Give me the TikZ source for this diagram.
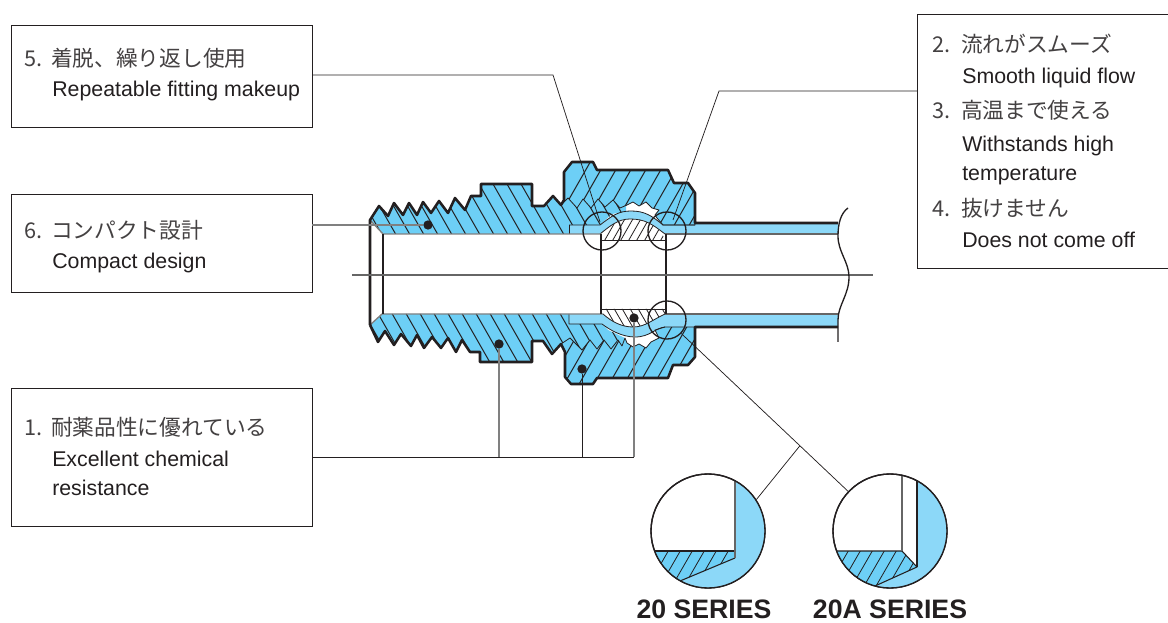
\documentclass[tikz,border=0pt]{standalone}
\usepackage{fontspec}
\setmainfont{Liberation Sans}
\newfontfamily\cjk{Noto Sans CJK JP}
\usetikzlibrary{calc}
\definecolor{bodyblue}{HTML}{6DCFF6}
\definecolor{tubeblue}{HTML}{8CD8F8}
\definecolor{ink}{HTML}{231F20}
\definecolor{centergray}{HTML}{666666}
\definecolor{leadgray}{HTML}{808080}
\def\bodyU{(370,220)--(379,206)--(388,216)--(394,203)--(403,215)--(409,203)--(417,215)--(423,202)--(431,213)--(439,201)--(448,213)--(455,198)--(465,210)--(471,196)--(481,196)--(481,184)--(532,184)--(532,206)--(544,206)--(553,196)--(561,205)--(568,198)--(577,208)--(583,199)--(591,208)--(598,199)--(605,207)--(613,200)--(620,208)--(626,205)--(626,212)--(612,214)--(600,225)--(569,225)--(569,234)--(383,234)--cycle}
\def\nutU{(561,205)--(564,200)--(564,172)--(572,162)--(593,162)--(597,170)--(668,170)--(674,183)--(688,183)--(695,193)--(695,225)--(663,225)--(657,218)--(655,215)--(659,210)--(652,208)--(646,202)--(639,206)--(633,202)--(627,205)--(620,208)--(613,200)--(605,207)--(598,199)--(591,208)--(583,199)--(577,208)--(568,198)--cycle}
\def\bodyL{(370,325)--(378,342)--(385,331)--(394,345)--(401,334)--(411,346)--(417,335)--(424,348)--(432,337)--(441,348)--(448,338)--(456,352)--(462,340)--(470,352)--(480,352)--(480,362)--(532,362)--(532,341)--(543,341)--(552,354)--(561,344)--(570,338)--(582,350)--(590,340)--(597,349)--(604,340)--(611,349)--(618,340)--(622,346)--(625,338)--(608,330)--(602,324)--(569,324)--(569,314)--(382,314)--cycle}
\def\nutL{(561,344)--(565,352)--(565,377)--(571,384)--(593,384)--(597,378)--(668,378)--(673,365)--(688,365)--(695,357)--(695,327)--(665,327)--(655,330)--(659,338)--(651,342)--(646,348)--(639,344)--(633,347)--(627,343)--(625,338)--(622,346)--(618,340)--(611,349)--(604,340)--(597,349)--(590,340)--(582,350)--(570,338)--cycle}
\def\tubeU{(569,225)--(600,225) .. controls (612,216) and (618,211) .. (631,211) .. controls (645,211) and (652,216) .. (663,225)--(695,225)--(695,223)--(838,223)--(838,234)--(665,234) .. controls (652,224) and (645,219) .. (630,219) .. controls (618,219) and (610,226) .. (600,234)--(569,234)--cycle}
\def\tubeL{(569,314)--(603,314) .. controls (612,322) and (622,327) .. (633,327) .. controls (645,327) and (652,320) .. (665,314)--(838,314)--(838,327)--(665,327) .. controls (655,328) and (650,337) .. (635,337) .. controls (622,337) and (610,330) .. (602,324)--(569,324)--cycle}
\def\ferUb{(601,240)--(606,231) .. controls (612,224) and (620,219) .. (630,219) .. controls (645,219) and (652,224) .. (659,230)--(666,240)--cycle}
\def\ferL{(601,309)--(666,309)--(666,314)--(665,314) .. controls (652,320) and (645,327) .. (633,327) .. controls (622,327) and (612,322) .. (603,314)--cycle}
\tikzset{
  x=0.75pt,y=-0.75pt,
  callout/.style={draw=ink,line width=0.6pt,fill=white,rectangle,inner sep=0pt,minimum width=225.75pt},
  leader/.style={draw=ink,line width=0.55pt},
  grayleader/.style={draw=leadgray,line width=1pt},
  jp/.style={anchor=base west,inner sep=0pt,text=ink!85,font=\cjk\fontsize{16.3}{16}\selectfont},
  en/.style={anchor=base west,inner sep=0pt,text=ink,font=\fontsize{16}{16}\selectfont},
  series/.style={anchor=base,inner sep=0pt,text=ink,font=\bfseries\fontsize{20}{20}\selectfont},
  hl/.style={draw=ink,line width=0.75pt},
  thin hl/.style={draw=ink,line width=0.6pt},
  outline/.style={draw=ink,line width=1.9pt,line join=round},
  fine/.style={draw=ink,line width=0.6pt,line join=round},
  graybore/.style={draw=leadgray,line width=1pt},
  dot/.style={circle,fill=ink,inner sep=0pt,minimum size=7pt},
  ring/.style={circle,draw=ink,line width=1pt,inner sep=0pt,minimum size=28.5pt},
  detail/.style={circle,draw=ink,line width=1pt,inner sep=0pt,minimum size=85.5pt},
}
\begin{document}
\begin{tikzpicture}
\useasboundingbox (0,0) rectangle (1168,623);
% callout boxes
\node[callout,minimum height=76.5pt] (box5) at (161.5,76) {};
\node[callout,minimum height=73.5pt] (box6) at (161.5,243) {};
\node[callout,minimum height=103.5pt] (box1) at (161.5,457) {};
\node[draw=ink,line width=0.6pt,rectangle,inner sep=0pt,minimum width=190pt,minimum height=190.5pt] (box2) at (1044,141) {};
% fills
\fill[bodyblue] \bodyU; \fill[bodyblue] \nutU; \fill[bodyblue] \bodyL; \fill[bodyblue] \nutL;
% hatching
\begin{scope}\clip \bodyU;
 \foreach \x in {275,289,...,640} \draw[hl] (\x,170)--++(120,210);
\end{scope}
\begin{scope}\clip \bodyL;
 \foreach \x in {184,198,...,640} \draw[hl] (\x,170)--++(120,210);
\end{scope}
\begin{scope}\clip \nutU;
 \foreach \x in {540,555,...,760} \draw[hl] (\x,250)--++(60,-105);
\end{scope}
\begin{scope}\clip \nutL;
 \foreach \x in {510,525,...,700} \draw[hl] (\x,400)--++(60,-105);
\end{scope}
% tube
\fill[tubeblue] \tubeU; \fill[tubeblue] \tubeL;
% ferrule
\begin{scope}\clip \ferUb;
 \fill[white] (590,210) rectangle (680,245);
 \foreach \x in {586,594,...,670} \draw[thin hl] (\x,245)--++(20,-35);
\end{scope}
\begin{scope}\clip \ferL;
 \foreach \x in {580,588,...,670} \draw[thin hl] (\x,305)--++(15,26);
\end{scope}
% fine edges
\draw[fine] \nutU; \draw[fine] \nutL;
\draw[fine] (601,240)--(666,240);
\draw[fine] (601,309)--(666,309);
\draw[fine] (569,225)--(600,225) .. controls (612,216) and (618,211) .. (631,211) .. controls (645,211) and (652,216) .. (663,225)--(695,225);
\draw[fine] (665,234) .. controls (652,224) and (645,219) .. (630,219) .. controls (618,219) and (610,226) .. (600,234);
\draw[fine] (569,225)--(569,234);
\draw[fine] (569,314)--(569,324)--(602,324) .. controls (610,330) and (622,337) .. (635,337) .. controls (650,337) and (655,328) .. (665,327);
\draw[fine] (603,314) .. controls (612,322) and (622,327) .. (633,327) .. controls (645,327) and (652,320) .. (665,314);
\draw[graybore] (370,220)--(383,234)--(601,234);
\draw[graybore] (370,325)--(382,314)--(603,314);
\draw[centergray,line width=1pt] (665,234)--(838,234);
\draw[centergray,line width=1pt] (665,314)--(838,314);
\draw[fine,line width=0.8pt] (383,234)--(383,314);
\draw[fine,line width=0.8pt] (601,234)--(601,314);
\draw[fine,line width=0.8pt] (666,234)--(666,314);
% thick outlines
\draw[outline] (370,325)--(370,220)--(379,206)--(388,216)--(394,203)--(403,215)--(409,203)--(417,215)--(423,202)--(431,213)--(439,201)--(448,213)--(455,198)--(465,210)--(471,196)--(481,196)--(481,184)--(532,184)--(532,206)--(544,206)--(553,196)--(561,205)--(564,200)--(564,172)--(572,162)--(593,162)--(597,170)--(668,170)--(674,183)--(688,183)--(695,193)--(695,223)--(838,223);
\draw[outline] (370,325)--(378,342)--(385,331)--(394,345)--(401,334)--(411,346)--(417,335)--(424,348)--(432,337)--(441,348)--(448,338)--(456,352)--(462,340)--(470,352)--(480,352)--(480,362)--(532,362)--(532,341)--(543,341)--(552,354)--(561,344)--(565,352)--(565,377)--(571,384)--(593,384)--(597,378)--(668,378)--(673,365)--(688,365)--(695,357)--(695,327)--(838,327);
% centre line and break line
\node[inner sep=0pt] (cla) at (351,275) {};
\node[inner sep=0pt] (clb) at (874,275) {};
\draw[centergray,line width=1pt] (cla)--(clb);
\draw[ink,line width=1pt] (848,208) .. controls (841,213) and (838,223) .. (838,236) .. controls (838,252) and (849,262) .. (849,277) .. controls (849,295) and (838,305) .. (838,320) -- (838,342);
% rings
\node[ring] (c1) at (602,231) {};
\node[ring] (c2) at (667,231) {};
\node[ring] (c3) at (667,320) {};
% dots
\node[dot] (d6) at (428,225) {};
\node[dot] (d1a) at (499,344) {};
\node[dot] (d1b) at (582,369) {};
\node[dot] (d1c) at (634,318) {};
% leaders
\coordinate (l5a) at (312,75);
\coordinate (l5b) at (553,75);
\coordinate (l5c) at (600,222);
\draw[leader] (l5a)--(l5b)--(l5c);
\coordinate (l2a) at (917,91);
\coordinate (l2b) at (719,91);
\coordinate (l2c) at (673,220);
\draw[leader] (l2a)--(l2b)--(l2c);
\coordinate (l6a) at (312,225);
\draw[grayleader] (l6a)--(d6);
\coordinate (l1j) at (499,457);
\coordinate (l1k) at (582,457);
\coordinate (l1m) at (634,457);
\draw[leader] (box1.east)--(l1m);
\draw[grayleader] (l1j)--(d1a);
\draw[leader] (l1k)--(d1b);
\draw[grayleader] (l1m)--(d1c);
% detail circles
\node[detail] (det1) at (708,531) {};
\node[detail] (det2) at (890,531) {};
\begin{scope}\clip (708,531) circle[radius=42.5pt];
 \fill[tubeblue] (735,470)--(735,558)--(680,581)--(660,600)--(780,600)--(780,470)--cycle;
 \fill[bodyblue] (640,551)--(735,551)--(735,558)--(680,581)--(640,600)--cycle;
 \begin{scope}\clip (640,551)--(735,551)--(735,558)--(680,581)--(640,600)--cycle;
  \foreach \x in {640,652,...,740} \draw[thin hl] (\x,600)--++(30,-52);
 \end{scope}
 \draw[fine,line width=0.8pt] (640,551)--(735,551);
 \draw[fine,line width=0.8pt] (735,558)--(680,581);
 \draw[draw=centergray,line width=1pt] (735,470)--(735,558);
\end{scope}
\begin{scope}\clip (890,531) circle[radius=42.5pt];
 \fill[tubeblue] (917,470)--(917,567)--(875,586)--(860,600)--(960,600)--(960,470)--cycle;
 \fill[bodyblue] (820,551)--(902,551)--(917,567)--(875,586)--(820,600)--cycle;
 \begin{scope}\clip (820,551)--(902,551)--(917,567)--(875,586)--(820,600)--cycle;
  \foreach \x in {820,832,...,930} \draw[thin hl] (\x,600)--++(30,-52);
 \end{scope}
 \draw[fine,line width=0.8pt] (820,551)--(902,551)--(917,567)--(875,586);
 \draw[fine,line width=0.8pt] (917,470)--(917,567);
 \draw[draw=centergray,line width=1.2pt] (902,470)--(902,551);
\end{scope}
\draw[ink,line width=1pt] (708,531) circle[radius=42.75pt];
\draw[ink,line width=1pt] (890,531) circle[radius=42.75pt];
\draw[leader] (c3)--(det2);
\coordinate (j) at ($(c3)!0.596!(det2)$);
\draw[leader] (j)--(det1.33);
% text
\node[jp] (t5) at (24,67) {5.\hspace{6.5pt}着脱、繰り返し使用};
\node[en] (t5e) at (52,97) {Repeatable fitting makeup};
\node[jp] (t6) at (24,239) {6.\hspace{6.5pt}コンパクト設計};
\node[en] (t6e) at (52,269) {Compact design};
\node[jp] (t1) at (24,436) {1.\hspace{6.5pt}耐薬品性に優れている};
\node[en] (t1e) at (52,467) {Excellent chemical};
\node[en] (t1f) at (52,496) {resistance};
\node[jp] (t2) at (932,53) {2.\hspace{8pt}流れがスムーズ};
\node[en] (t2e) at (962,84) {Smooth liquid flow};
\node[jp] (t3) at (932,119) {3.\hspace{8pt}高温まで使える};
\node[en] (t3e) at (962,152) {Withstands high};
\node[en] (t3f) at (962,181) {temperature};
\node[jp] (t4) at (932,217) {4.\hspace{8pt}抜けません};
\node[en] (t4e) at (962,248) {Does not come off};
\node[series] (s1) at (704,618) {20 SERIES};
\node[series] (s2) at (890,618) {20A SERIES};
\end{tikzpicture}
\end{document}
